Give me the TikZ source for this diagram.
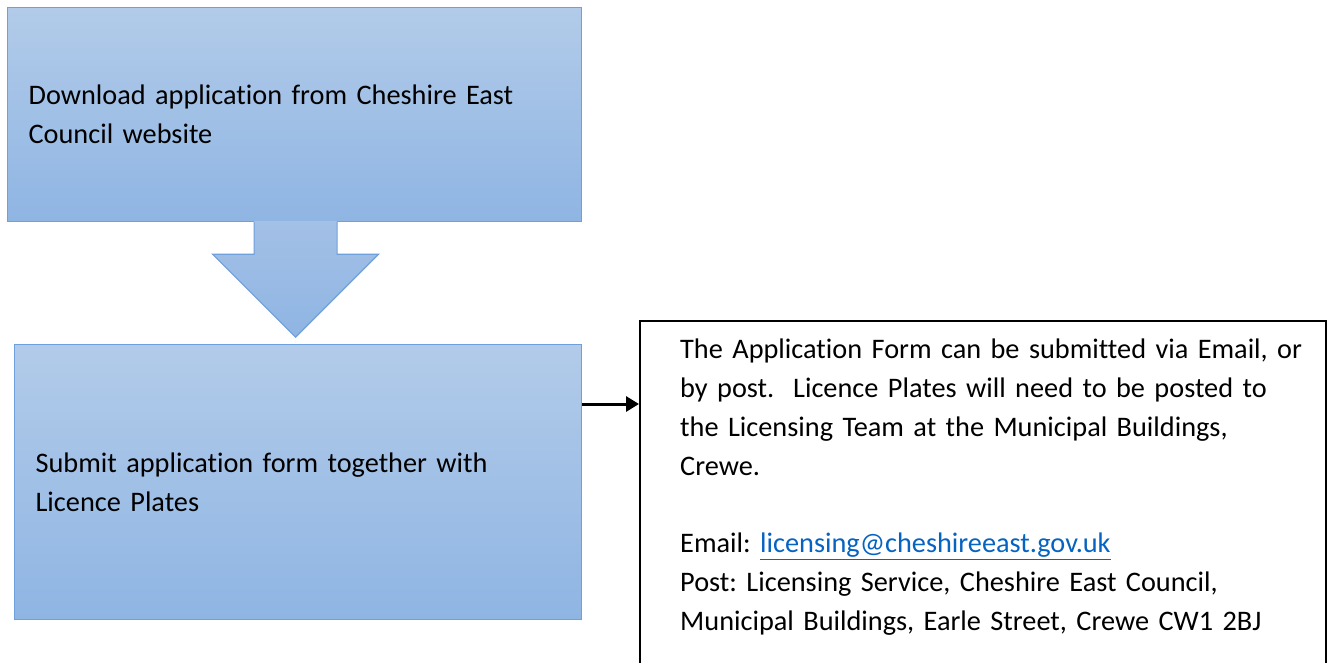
\documentclass[tikz,border=0pt]{standalone}
\usepackage{fontspec}
\setmainfont{Carlito}[Ligatures=NoCommon]
\usetikzlibrary{arrows.meta,calc}
\definecolor{boxtop}{RGB}{178,203,233}
\definecolor{boxbot}{RGB}{143,181,227}
\definecolor{arrowtop}{RGB}{163,192,230}
\definecolor{boxline}{RGB}{110,160,220}
\definecolor{linkblue}{RGB}{5,99,193}
\frenchspacing
\begin{document}
\begin{tikzpicture}[x=1pt,y=-1pt,
  every node/.style={font=\fontsize{28.3}{38.8}\selectfont},
  stepbox/.style={draw=boxline, line width=1.2pt, top color=boxtop, bottom color=boxbot,
    shading angle=0, anchor=north west, inner xsep=21pt, inner ysep=0pt, align=left},
  notebox/.style={draw=black, line width=1.6pt, anchor=north west, inner sep=0pt},
  link/.style={line width=3pt, -{Triangle[length=13pt,width=15pt]}}]
  \useasboundingbox (0,0) rectangle (1327,662);

  % first step
  \node[stepbox, text width=532pt, minimum height=214pt] (box1) at (7,7)
    {Download application from Cheshire East\\Council website};

  % block arrow between the steps
  \coordinate (as) at ($(box1.south)+(1,-1)$);
  \shade[top color=arrowtop, bottom color=boxbot]
    ($(as)+(-41.5,0)$) -- ($(as)+(-41.5,33)$) -- ($(as)+(-83,33)$) -- ($(as)+(0,116)$)
    -- ($(as)+(83,33)$) -- ($(as)+(41.5,33)$) -- ($(as)+(41.5,0)$) -- cycle;
  \draw[boxline, line width=1.2pt, line join=miter]
    ($(as)+(-41.5,1)$) -- ($(as)+(-41.5,33)$) -- ($(as)+(-83,33)$) -- ($(as)+(0,116)$)
    -- ($(as)+(83,33)$) -- ($(as)+(41.5,33)$) -- ($(as)+(41.5,1)$);

  % second step
  \node[stepbox, text width=525pt, minimum height=275pt] (box2) at (14,344)
    {Submit application form together with\\Licence Plates};

  % information box
  \node[notebox, minimum width=686pt, minimum height=400pt] (box3) at (639,320) {};
  \node[anchor=north west, inner sep=0pt, text width=640pt, align=left] (info)
    at ($(box3.north west)+(41,19)$)
    {The Application Form can be submitted via Email, or\\
     by post.~ Licence Plates will need to be posted to\\
     the Licensing Team at the Municipal Buildings,\\
     Crewe.\\[38.8pt]
     Email: \textcolor{linkblue}{\underline{licensing@cheshireeast.gov.uk}}\\
     Post: Licensing Service, Cheshire East Council,\\
     Municipal Buildings, Earle Street, Crewe CW1 2BJ};

  % connector
  \coordinate (c) at ($(box2.north east)+(0,60)$);
  \draw[link] (c) -- (c -| box3.west);
\end{tikzpicture}
\end{document}
